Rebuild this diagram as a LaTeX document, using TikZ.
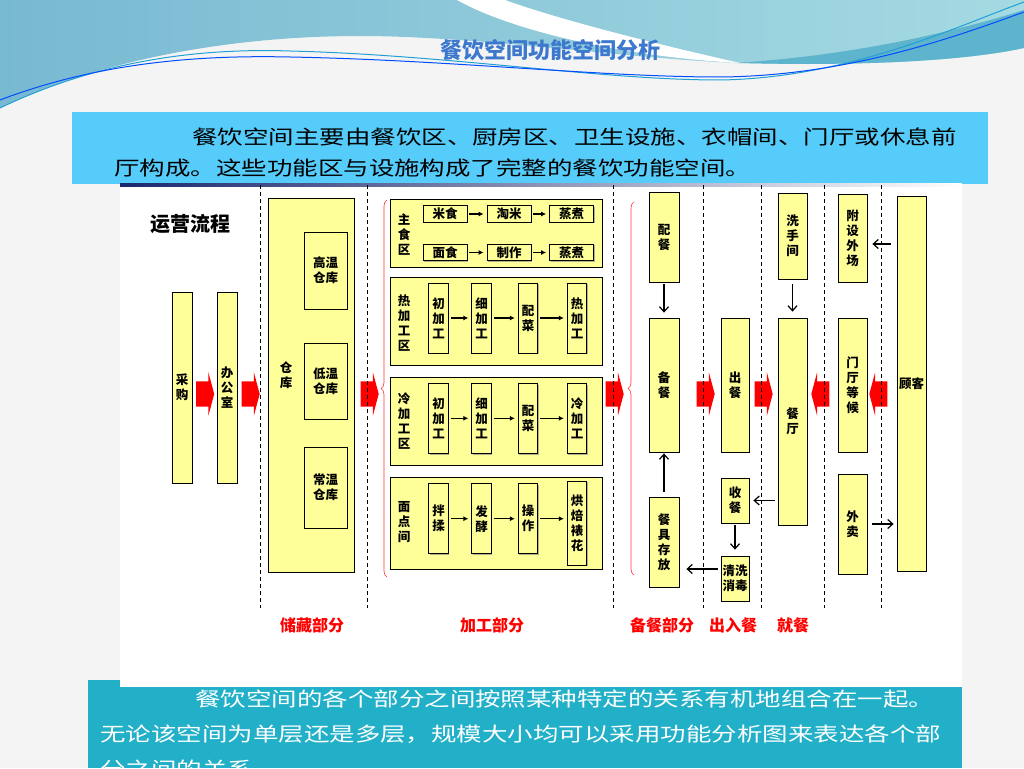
\documentclass[tikz,border=0pt]{standalone}
\usepackage{fontspec}
\setmainfont{Noto Sans CJK SC}
\newfontfamily\widefont{Noto Sans CJK SC}[FakeStretch=1.3]
\usetikzlibrary{arrows.meta, positioning, shapes.arrows, shadows, decorations.pathreplacing}

\definecolor{boxyellow}{RGB}{255,255,153}
\definecolor{introblue}{RGB}{85,204,250}
\definecolor{noteteal}{RGB}{34,176,200}
\definecolor{titleblue}{RGB}{60,120,205}
\definecolor{slidegray}{RGB}{244,244,244}
\definecolor{waveleft}{RGB}{120,185,210}
\definecolor{waveright}{RGB}{165,218,226}
\definecolor{waveband}{RGB}{95,180,205}
\definecolor{navyline}{RGB}{25,40,110}

\begin{document}
\begin{tikzpicture}[x=1pt, y=-1pt,
  ybox/.style={draw, line width=0.8pt, fill=boxyellow, inner sep=0pt, align=center,
    font=\fontsize{12.5}{15}\selectfont\bfseries,
    drop shadow={shadow xshift=1.2pt, shadow yshift=-1.2pt, opacity=0.6}},
  panel/.style={ybox, minimum width=212pt},
  hbox/.style={ybox, minimum width=44pt, minimum height=16.5pt},
  cbox/.style={ybox, minimum width=19.5pt, minimum height=70pt},
  tag/.style={inner sep=0pt, align=center, font=\fontsize{12.5}{15}\selectfont\bfseries},
  flow/.style={-{Latex[length=5pt,width=5pt]}, line width=1.3pt, shorten <=2pt, shorten >=3pt},
  conn/.style={-{Straight Barb[length=5pt,width=9pt]}, line width=1.2pt},
  bigarrow/.style={single arrow, fill=red, draw=none, minimum height=18pt,
    inner xsep=0pt, inner ysep=12.5pt, single arrow head extend=9pt, single arrow tip angle=150},
  sepline/.style={line width=0.9pt, dash pattern=on 4pt off 3pt},
  part/.style={text=red, font=\fontsize{16}{16}\selectfont\bfseries},
  para/.style={anchor=base west, inner sep=0pt, font=\widefont\fontsize{19.6}{19.6}\selectfont}]

\useasboundingbox (0,0) rectangle (1024,768);
\fill[slidegray] (0,0) rectangle (1024,768);

% wave header
\shade[left color=waveleft, right color=waveright] (0,0) -- (1024,0) -- (1024,48)
  .. controls (960,62) and (850,66) .. (740,63) .. controls (640,60) and (480,36) .. (360,36)
  .. controls (230,36) and (100,60) .. (0,108) -- cycle;
\fill[waveband] (735,63) .. controls (860,55) and (960,30) .. (1024,10) -- (1024,48)
  .. controls (960,62) and (850,66) .. (740,63) -- cycle;
\fill[white] (457,0) .. controls (520,35) and (640,58) .. (740,63)
  .. controls (660,45) and (560,20) .. (505,0) -- cycle;
\draw[cyan!70!teal, line width=1pt] (0,108) .. controls (100,60) and (200,48) .. (290,51)
  .. controls (450,55) and (600,80) .. (720,80) .. controls (850,78) and (960,25) .. (1024,2);
\draw[blue!70!cyan, line width=1pt] (0,100) .. controls (100,62) and (200,55) .. (290,57)
  .. controls (450,60) and (600,77) .. (720,77) .. controls (850,76) and (960,35) .. (1024,12);
\node[font=\fontsize{22}{22}\selectfont\bfseries, text=titleblue] (title) at (550,50) {餐饮空间功能空间分析};

% text boxes
\fill[introblue] (72,112) rectangle (988,184);
\node[para] (introA) at (192,144) {餐饮空间主要由餐饮区、厨房区、卫生设施、衣帽间、门厅或休息前};
\node[para] (introB) at (114,175) {厅构成。这些功能区与设施构成了完整的餐饮功能空间。};
\fill[noteteal] (88,680) rectangle (962,768);
\fill[white] (120,184) rectangle (962,687);
\shade[left color=navyline, right color=white] (120,183) rectangle (962,186);
\node[para, text=white] (noteA) at (195,706) {餐饮空间的各个部分之间按照某种特定的关系有机地组合在一起。};
\node[para, text=white] (noteB) at (100,741) {无论该空间为单层还是多层，规模大小均可以采用功能分析图来表达各个部};
\node[para, text=white] (noteC) at (100,776) {分之间的关系。};

\node[anchor=base west, inner sep=0pt, font=\fontsize{20}{20}\selectfont\bfseries] (yunying) at (150,231) {运营流程};

% storage
\node[ybox, minimum width=20pt, minimum height=191pt] (caigou) at (182,387.5) {采\\购};
\node[ybox, minimum width=20pt, minimum height=191pt] (bangong) at (227,387.5) {办\\公\\室};
\node[ybox, minimum width=86pt, minimum height=374pt] (cangku) at (311,385) {};
\node[tag] (cangkutag) at (286,375) {仓\\库};
\node[ybox, minimum width=43pt, minimum height=77pt] (gaowen) at (325.5,270.5) {高温\\仓库};
\node[ybox, minimum width=43pt, minimum height=76pt] (diwen) at (325.5,381) {低温\\仓库};
\node[ybox, minimum width=43pt, minimum height=81pt] (changwen) at (325.5,487.5) {常温\\仓库};

% processing
\node[panel, minimum height=68pt] (zhushi) at (496,233) {};
\node[tag] (zhushitag) at (404,235) {主\\食\\区};
\node[hbox] (mishi) at (445,214) {米食};
\node[hbox] (taomi) at (509,214) {淘米};
\node[hbox] (zhengzhuA) at (571.5,214) {蒸煮};
\node[hbox] (mianshi) at (445,252.5) {面食};
\node[hbox] (zhizuo) at (509,252.5) {制作};
\node[hbox] (zhengzhuB) at (571.5,252.5) {蒸煮};

\node[panel, minimum height=88pt] (rezone) at (496,321) {};
\node[tag] (rezonetag) at (404,323.5) {热\\加\\工\\区};
\node[cbox] (rechu) at (438.5,318) {初\\加\\工};
\node[cbox] (rexi) at (481.5,318) {细\\加\\工};
\node[cbox] (repei) at (528,318) {配\\菜};
\node[cbox] (rejia) at (577,318) {热\\加\\工};

\node[panel, minimum height=88pt] (lengzone) at (496,421) {};
\node[tag] (lengzonetag) at (404,421.5) {冷\\加\\工\\区};
\node[cbox] (lengchu) at (438.5,418.3) {初\\加\\工};
\node[cbox] (lengxi) at (481.5,418.3) {细\\加\\工};
\node[cbox] (lengpei) at (528,418.3) {配\\菜};
\node[cbox] (lengjia) at (577,418.3) {冷\\加\\工};

\node[panel, minimum height=92pt] (miandian) at (496,523) {};
\node[tag] (miandiantag) at (404,522.5) {面\\点\\间};
\node[cbox] (banrou) at (438.5,518.7) {拌\\揉};
\node[cbox] (fajiao) at (481.5,518.7) {发\\酵};
\node[cbox] (caozuo) at (528,518.7) {操\\作};
\node[cbox, minimum height=84pt] (hongbei) at (577,523) {烘\\焙\\裱\\花};

\foreach \a/\b in {mishi/taomi, taomi/zhengzhuA, mianshi/zhizuo, zhizuo/zhengzhuB,
    rechu/rexi, rexi/repei, repei/rejia, lengchu/lengxi, lengxi/lengpei, lengpei/lengjia,
    banrou/fajiao, fajiao/caozuo}
  \draw[flow] (\a) -- (\b);
\draw[flow] (caozuo) -- (hongbei.west |- caozuo);

% serving and dining
\node[ybox, minimum width=30pt, minimum height=90pt] (peican) at (664,237) {配\\餐};
\node[ybox, minimum width=30pt, minimum height=134pt] (beican) at (664,385) {备\\餐};
\node[ybox, minimum width=30pt, minimum height=90pt] (canju) at (664,542) {餐\\具\\存\\放};
\node[ybox, minimum width=28pt, minimum height=134pt] (chucan) at (735,385) {出\\餐};
\node[ybox, minimum width=28pt, minimum height=45pt] (shoucan) at (735,500.5) {收\\餐};
\node[ybox, minimum width=28pt, minimum height=45pt] (qingxi) at (735,578.5) {清洗\\消毒};
\node[ybox, minimum width=29pt, minimum height=86pt] (xishou) at (792.5,236) {洗\\手\\间};
\node[ybox, minimum width=29pt, minimum height=207pt] (canting) at (792.5,421.5) {餐\\厅};
\node[ybox, minimum width=29pt, minimum height=88pt] (fushe) at (852.5,238) {附\\设\\外\\场};
\node[ybox, minimum width=29pt, minimum height=134pt] (menting) at (852.5,385) {门\\厅\\等\\候};
\node[ybox, minimum width=29pt, minimum height=100pt] (waimai) at (852.5,524) {外\\卖};
\node[ybox, minimum width=29pt, minimum height=375pt] (guke) at (911.5,383.5) {顾客};

\draw[conn, shorten <=2pt, shorten >=5pt] (peican) -- (beican);
\draw[conn, shorten <=5pt, shorten >=1pt] (canju) -- (beican);
\draw[conn, shorten <=2pt, shorten >=6pt] (shoucan) -- (qingxi);
\draw[conn, shorten <=3pt, shorten >=7pt] (qingxi.west |- 0,569) -- (canju.east |- 0,569);
\draw[conn, shorten <=3pt, shorten >=4pt] (canting.west |- shoucan) -- (shoucan);
\draw[conn, shorten <=5pt, shorten >=6pt] (xishou) -- (canting);
\draw[conn, shorten <=6pt, shorten >=5pt] (guke.west |- 0,244) -- (fushe.east |- 0,244);
\draw[conn, shorten <=5pt, shorten >=3pt] (waimai) -- (guke.west |- waimai);

% red flow arrows
\foreach \x/\n in {203.5/a, 249/b, 368/c, 613/d, 704/e, 762/f}
  \node[bigarrow] (push\n) at (\x,394) {};
\foreach \x/\n in {822/g, 880/h}
  \node[bigarrow, shape border rotate=180] (push\n) at (\x,394) {};

\draw[red!80, line width=0.6pt, decorate, decoration={brace, amplitude=6pt}] (387,577) -- (387,200);
\draw[red!80, line width=0.6pt, decorate, decoration={brace, amplitude=6pt}] (634,575) -- (634,202);

\foreach \x in {260,367,613,703,761,824,881}
  \draw[sepline] (\x,185) -- (\x,608);

\node[part] (chucang) at (312,625) {储藏部分};
\node[part] (jiagong) at (492,625) {加工部分};
\node[part] (beicanpart) at (662,625) {备餐部分};
\node[part] (churu) at (733,625) {出入餐};
\node[part] (jiucan) at (793,625) {就餐};
\end{tikzpicture}
\end{document}
